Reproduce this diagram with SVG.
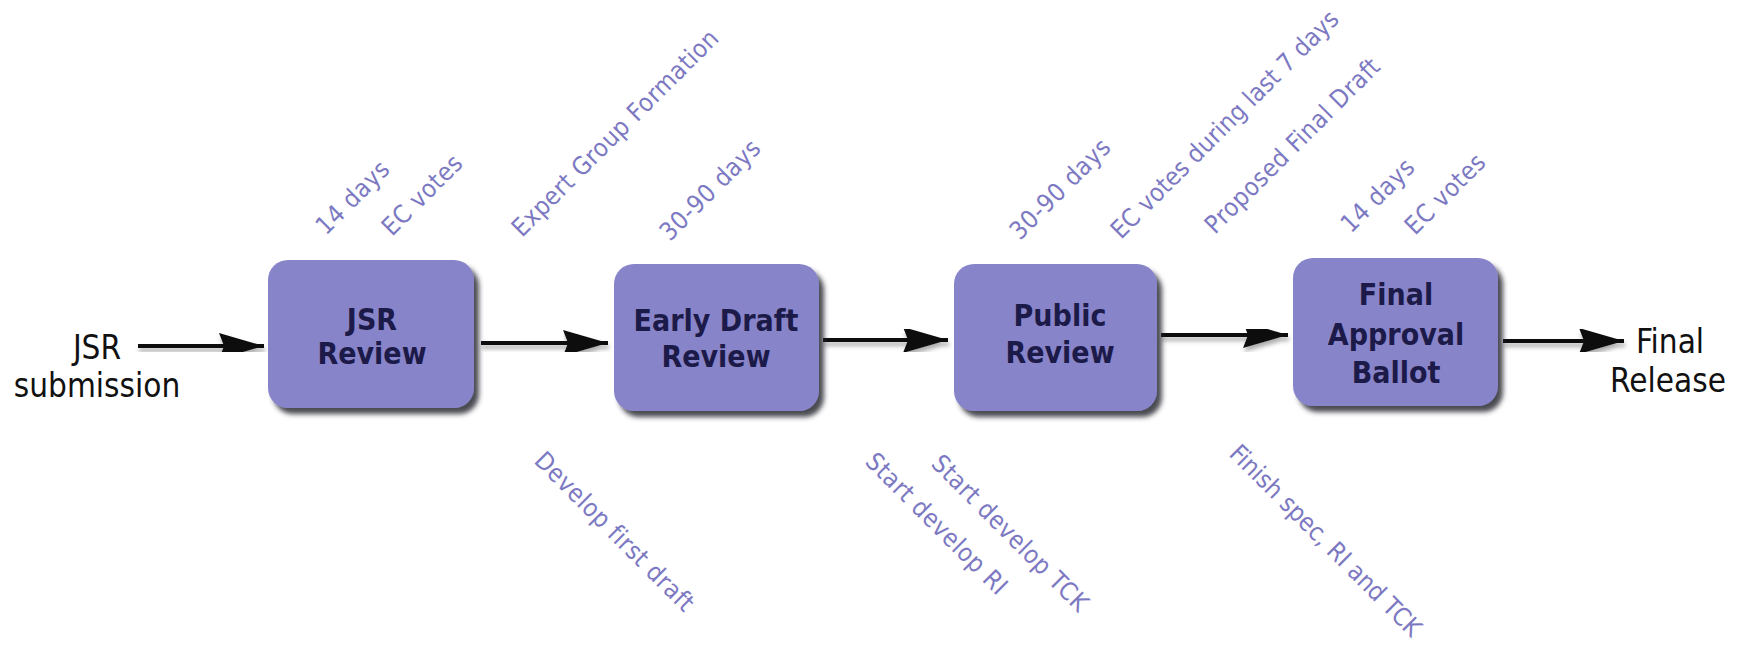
<svg xmlns="http://www.w3.org/2000/svg" width="1746" height="648" viewBox="0 0 1746 648">
<defs>
<filter id="boxShadow" x="-10%" y="-10%" width="130%" height="130%">
<feGaussianBlur in="SourceAlpha" stdDeviation="2.5"/>
<feOffset dx="5" dy="6" result="b"/>
<feFlood flood-color="#2a2a33" flood-opacity="0.85"/>
<feComposite in2="b" operator="in"/>
<feMerge><feMergeNode/><feMergeNode in="SourceGraphic"/></feMerge>
</filter>
<filter id="lineShadow" x="-10%" y="-50%" width="120%" height="200%">
<feGaussianBlur in="SourceAlpha" stdDeviation="2"/>
<feOffset dx="1" dy="4" result="b"/>
<feFlood flood-color="#777" flood-opacity="0.6"/>
<feComposite in2="b" operator="in"/>
<feMerge><feMergeNode/><feMergeNode in="SourceGraphic"/></feMerge>
</filter>
<marker id="arrow" markerUnits="userSpaceOnUse" markerWidth="48" markerHeight="28" refX="45" refY="14" orient="auto">
<path d="M0,1 L45,14 L0,27 L5,14 Z" fill="#111"/>
</marker>
</defs>
<style>
.box{fill:#8884c9;filter:url(#boxShadow)}
.btxt{font-family:"DejaVu Sans Condensed","DejaVu Sans","Liberation Sans",sans-serif;font-stretch:condensed;font-weight:bold;font-size:30px;fill:#1c1a48;text-anchor:middle}
.ttxt{font-family:"DejaVu Sans Condensed","DejaVu Sans","Liberation Sans",sans-serif;font-stretch:condensed;font-size:33px;fill:#111;text-anchor:middle}
.lbl{font-family:"DejaVu Sans Condensed","DejaVu Sans","Liberation Sans",sans-serif;font-stretch:condensed;font-size:25px;letter-spacing:0.5px;fill:#7c79c2}
.conn{stroke:#111;stroke-width:4;fill:none;marker-end:url(#arrow)}
</style>
<rect width="1746" height="648" fill="#ffffff"/>

<g id="connectors" filter="url(#lineShadow)">
<line class="conn" x1="138" y1="346" x2="264" y2="346"/>
<line class="conn" x1="481" y1="343" x2="608" y2="343"/>
<line class="conn" x1="823" y1="340" x2="948" y2="340"/>
<line class="conn" x1="1161" y1="335" x2="1288" y2="335"/>
<line class="conn" x1="1503" y1="341" x2="1624" y2="341"/>
</g>

<g id="start">
<text class="ttxt" x="97" y="359">JSR</text>
<text class="ttxt" x="97" y="397">submission</text>
</g>

<g id="jsr-review">
<rect class="box" x="268" y="260" width="206" height="148" rx="20"/>
<text class="btxt" x="372" y="330">JSR</text>
<text class="btxt" x="372" y="364">Review</text>
</g>

<g id="early-draft-review">
<rect class="box" x="614" y="264" width="205" height="147" rx="20"/>
<text class="btxt" x="716" y="331">Early Draft</text>
<text class="btxt" x="716" y="367">Review</text>
</g>

<g id="public-review">
<rect class="box" x="954" y="264" width="203" height="147" rx="20"/>
<text class="btxt" x="1060" y="326">Public</text>
<text class="btxt" x="1060" y="363">Review</text>
</g>

<g id="final-approval-ballot">
<rect class="box" x="1293" y="258" width="205" height="148" rx="20"/>
<text class="btxt" x="1396" y="305">Final</text>
<text class="btxt" x="1396" y="345">Approval</text>
<text class="btxt" x="1396" y="383">Ballot</text>
</g>

<g id="end">
<text class="ttxt" x="1670" y="353">Final</text>
<text class="ttxt" x="1668" y="392">Release</text>
</g>

<g id="labels-top">
<text class="lbl" transform="translate(326,236) rotate(-45)">14 days</text>
<text class="lbl" transform="translate(392,237) rotate(-45)">EC votes</text>
<text class="lbl" transform="translate(522,238) rotate(-45)">Expert Group Formation</text>
<text class="lbl" transform="translate(670,242) rotate(-45)">30-90 days</text>
<text class="lbl" transform="translate(1020,241) rotate(-45)">30-90 days</text>
<text class="lbl" style="letter-spacing:0.1px" transform="translate(1121,240) rotate(-45)">EC votes during last 7 days</text>
<text class="lbl" transform="translate(1215,235) rotate(-45)">Proposed Final Draft</text>
<text class="lbl" transform="translate(1351,234) rotate(-45)">14 days</text>
<text class="lbl" transform="translate(1415,236) rotate(-45)">EC votes</text>
</g>

<g id="labels-bottom">
<text class="lbl" transform="translate(533,462) rotate(45)">Develop first draft</text>
<text class="lbl" transform="translate(930,465) rotate(45)">Start develop TCK</text>
<text class="lbl" transform="translate(864,463) rotate(45)">Start develop RI</text>
<text class="lbl" style="letter-spacing:0px" transform="translate(1228,455) rotate(45)">Finish spec, RI and TCK</text>
</g>
</svg>
